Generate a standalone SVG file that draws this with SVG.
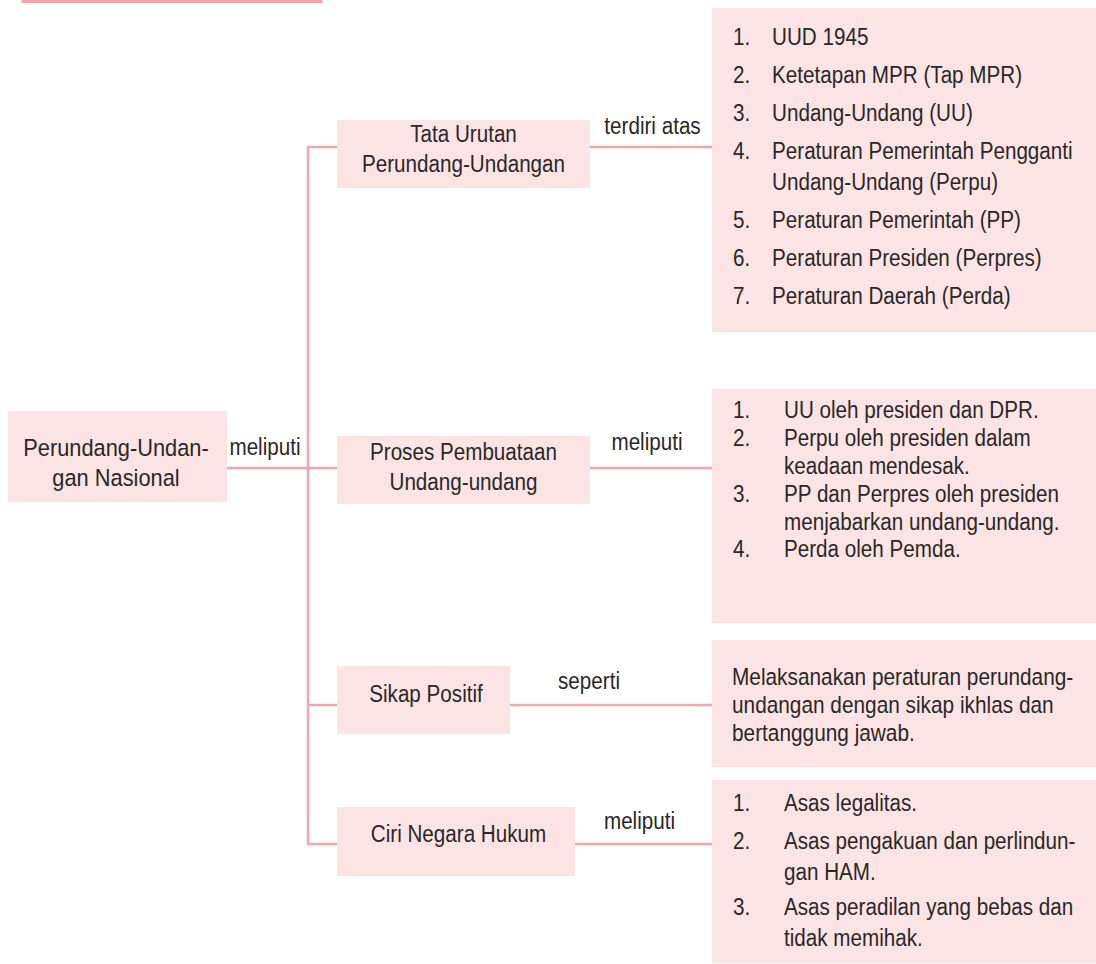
<svg xmlns="http://www.w3.org/2000/svg" width="1096" height="964" viewBox="0 0 1096 964">
<style>
.box{fill:#fce4e5;}
.ln{stroke:#f4a5ae;stroke-width:2.5;fill:none;}
text{font-family:"Liberation Sans",Arial,sans-serif;font-size:24.5px;fill:#2b2727;}
.c{text-anchor:middle;}
</style>
<rect x="0" y="0" width="1096" height="964" fill="#ffffff"/>
<rect x="23" y="-30" width="298" height="31.5" fill="none" stroke="#f4a5ae" stroke-width="3"/>
<g id="connectors">
<line class="ln" x1="308" y1="146" x2="308" y2="845"/>
<line class="ln" x1="227" y1="468" x2="338" y2="468"/>
<line class="ln" x1="307" y1="147" x2="338" y2="147"/>
<line class="ln" x1="307" y1="705" x2="338" y2="705"/>
<line class="ln" x1="307" y1="844" x2="338" y2="844"/>
<line class="ln" x1="590" y1="147" x2="712" y2="147"/>
<line class="ln" x1="590" y1="468" x2="712" y2="468"/>
<line class="ln" x1="510" y1="705" x2="712" y2="705"/>
<line class="ln" x1="575" y1="844" x2="712" y2="844"/>
<g transform="translate(265 0) scale(0.843 1)"><text class="c" x="0" y="455">meliputi</text></g>
<g transform="translate(652.5 0) scale(0.843 1)"><text class="c" x="0" y="134">terdiri atas</text></g>
<g transform="translate(647 0) scale(0.843 1)"><text class="c" x="0" y="450">meliputi</text></g>
<g transform="translate(589 0) scale(0.843 1)"><text class="c" x="0" y="689">seperti</text></g>
<g transform="translate(639.5 0) scale(0.843 1)"><text class="c" x="0" y="829">meliputi</text></g>
</g>
<g id="main">
<rect class="box" x="8" y="411" width="219" height="91"/>
<g transform="translate(116 0) scale(0.89 1)">
<text class="c" x="0" y="456">Perundang-Undan-</text>
<text class="c" x="0" y="486">gan Nasional</text>
</g>
</g>
<g id="tata">
<rect class="box" x="337" y="120" width="253" height="68"/>
<g transform="translate(463.5 0) scale(0.843 1)">
<text class="c" x="0" y="142">Tata Urutan</text>
<text class="c" x="0" y="172">Perundang-Undangan</text>
</g>
</g>
<g id="proses">
<rect class="box" x="337" y="436" width="253" height="68"/>
<g transform="translate(463.5 0) scale(0.843 1)">
<text class="c" x="0" y="460">Proses Pembuataan</text>
<text class="c" x="0" y="490">Undang-undang</text>
</g>
</g>
<g id="sikap">
<rect class="box" x="337" y="666" width="173" height="68"/>
<g transform="translate(426 0) scale(0.843 1)"><text class="c" x="0" y="702">Sikap Positif</text></g>
</g>
<g id="ciri">
<rect class="box" x="337" y="807" width="238" height="69"/>
<g transform="translate(458.5 0) scale(0.843 1)"><text class="c" x="0" y="842">Ciri Negara Hukum</text></g>
</g>
<g id="list-tata">
<rect class="box" x="712" y="8" width="384" height="324"/>
<g transform="translate(733 0) scale(0.843 1)">
<text x="0" y="45">1.</text><text x="46.3" y="45">UUD 1945</text>
<text x="0" y="83">2.</text><text x="46.3" y="83">Ketetapan MPR (Tap MPR)</text>
<text x="0" y="121">3.</text><text x="46.3" y="121">Undang-Undang (UU)</text>
<text x="0" y="159">4.</text><text x="46.3" y="159">Peraturan Pemerintah Pengganti</text>
<text x="46.3" y="190">Undang-Undang (Perpu)</text>
<text x="0" y="228">5.</text><text x="46.3" y="228">Peraturan Pemerintah (PP)</text>
<text x="0" y="266">6.</text><text x="46.3" y="266">Peraturan Presiden (Perpres)</text>
<text x="0" y="304">7.</text><text x="46.3" y="304">Peraturan Daerah (Perda)</text>
</g>
</g>
<g id="list-proses">
<rect class="box" x="712" y="389" width="384" height="234"/>
<g transform="translate(733 0) scale(0.843 1)">
<text x="0" y="418">1.</text><text x="60.5" y="418">UU oleh presiden dan DPR.</text>
<text x="0" y="446">2.</text><text x="60.5" y="446">Perpu oleh presiden dalam</text>
<text x="60.5" y="474">keadaan mendesak.</text>
<text x="0" y="502">3.</text><text x="60.5" y="502">PP dan Perpres oleh presiden</text>
<text x="60.5" y="530">menjabarkan undang-undang.</text>
<text x="0" y="557">4.</text><text x="60.5" y="557">Perda oleh Pemda.</text>
</g>
</g>
<g id="sikap-desc">
<rect class="box" x="712" y="640" width="384" height="127"/>
<g transform="translate(732 0) scale(0.85 1)">
<text x="0" y="685">Melaksanakan peraturan perundang-</text>
<text x="0" y="713">undangan dengan sikap ikhlas dan</text>
<text x="0" y="741">bertanggung jawab.</text>
</g>
</g>
<g id="list-ciri">
<rect class="box" x="712" y="780" width="384" height="183"/>
<g transform="translate(733 0) scale(0.843 1)">
<text x="0" y="811">1.</text><text x="60.5" y="811">Asas legalitas.</text>
<text x="0" y="849">2.</text><text x="60.5" y="849">Asas pengakuan dan perlindun-</text>
<text x="60.5" y="880">gan HAM.</text>
<text x="0" y="915">3.</text><text x="60.5" y="915">Asas peradilan yang bebas dan</text>
<text x="60.5" y="946">tidak memihak.</text>
</g>
</g>
</svg>
